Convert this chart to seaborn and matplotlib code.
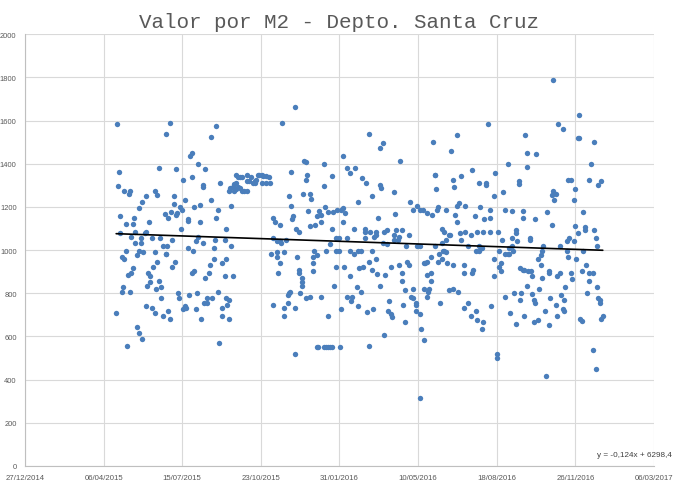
import pandas as pd
import seaborn as sns
import matplotlib.pyplot as plt
import matplotlib.dates as mdates

# (dias despues del 27/12/2014 = serial Excel 42000, valor por m2)
pts_2015_alto = [
    (117, 1582), (184, 1591), (180, 1540), (243, 1577), (236, 1526), (120, 1360), (170, 1378),
    (192, 1374), (212, 1452), (210, 1434), (220, 1401), (229, 1374), (118, 1295), (126, 1276),
    (133, 1276), (132, 1258), (165, 1276), (168, 1253), (201, 1323), (213, 1337), (227, 1300),
    (226, 1290), (248, 1309), (154, 1249), (149, 1225), (190, 1249), (203, 1230), (237, 1230),
    (145, 1193), (189, 1212), (197, 1198), (200, 1188), (215, 1198), (222, 1207), (245, 1184),
    (178, 1165), (182, 1151), (186, 1178), (194, 1170), (192, 1161), (121, 1156), (139, 1147),
    (207, 1142), (207, 1133), (223, 1128), (158, 1128), (128, 1119), (137, 1119), (243, 1147),
    (199, 1100),
]
pts_2015_bajo = [
    (121, 1077), (140, 1082), (153, 1077), (154, 1082), (135, 1063), (147, 1058), (148, 1035),
    (140, 1031), (161, 1058), (172, 1058), (187, 1049), (220, 1063), (217, 1040), (226, 1035),
    (242, 1049), (129, 998), (123, 966), (126, 961), (145, 998), (150, 989), (143, 975),
    (166, 989), (176, 1021), (181, 1021), (179, 984), (179, 980), (208, 1012), (214, 998),
    (241, 1008), (240, 961), (250, 938), (235, 929), (234, 892), (138, 915), (135, 896),
    (131, 883), (163, 924), (168, 943), (191, 947), (187, 924), (157, 896), (159, 878),
    (159, 850), (171, 859), (155, 832), (167, 822), (173, 827), (212, 896), (215, 901),
    (229, 873), (246, 808), (125, 827), (124, 804), (134, 808), (195, 799), (196, 776),
    (173, 776), (209, 790), (219, 799), (232, 776), (238, 776), (228, 753), (231, 753),
    (116, 707), (154, 739), (162, 734), (165, 707), (175, 697), (182, 716), (185, 679),
    (201, 725), (204, 739), (205, 734), (218, 725), (224, 679), (251, 730), (250, 697),
    (142, 646), (145, 614), (149, 586), (130, 558), (247, 572),
]
pts_2015b_alto = [
    (344, 1665), (327, 1591), (355, 1411), (357, 1406), (381, 1397), (404, 1438), (409, 1381),
    (413, 1355), (338, 1360), (390, 1341), (359, 1346), (357, 1327),
    (269, 1350), (271, 1337), (274, 1337), (276, 1337), (282, 1346), (288, 1337), (283, 1318),
    (285, 1318), (290, 1309), (293, 1309), (296, 1350), (298, 1350), (301, 1346), (303, 1341),
    (306, 1341), (310, 1337), (301, 1313), (307, 1313), (312, 1313), (268, 1313), (266, 1304),
    (264, 1290), (261, 1286), (259, 1276), (271, 1290), (274, 1286), (276, 1276), (279, 1276),
    (282, 1276), (266, 1276), (269, 1281), (294, 1323), (292, 1318),
    (262, 1202), (256, 1096), (336, 1249), (339, 1202), (354, 1258), (362, 1262), (364, 1239),
    (380, 1295), (360, 1179), (341, 1156), (340, 1142), (374, 1179), (382, 1198), (376, 1161),
    (371, 1156), (386, 1175), (392, 1175), (397, 1184), (402, 1188), (404, 1193), (407, 1170),
    (405, 1128), (377, 1128), (369, 1114), (362, 1110), (316, 1147), (318, 1128), (324, 1114),
    (390, 1100),
]
pts_2015b_bajo = [
    (315, 1058), (320, 1040), (324, 1040), (326, 1035), (332, 1049), (345, 1097), (349, 1082),
    (395, 1058), (400, 1058), (409, 1058), (388, 1026), (313, 980), (321, 989), (320, 966),
    (330, 989), (346, 970), (325, 938), (322, 896), (368, 998), (367, 970), (371, 975),
    (383, 998), (395, 998), (399, 998), (348, 910), (348, 892), (352, 869), (353, 850),
    (352, 836), (366, 901), (367, 938), (396, 924), (406, 924), (393, 832), (414, 878),
    (334, 790), (336, 799), (337, 804), (350, 799), (358, 776), (363, 781), (376, 781),
    (410, 781), (315, 744), (329, 730), (329, 697), (334, 753), (343, 730), (385, 697),
    (402, 725), (372, 549), (373, 549), (381, 549), (383, 549), (386, 549), (388, 549),
    (391, 549), (401, 549), (343, 521), (254, 1045), (262, 1021), (256, 957), (254, 878),
    (264, 878), (256, 776), (259, 771), (257, 748), (260, 683),
]
pts_2016_alto = [
    (438, 1540), (451, 1475), (455, 1494), (477, 1411), (420, 1378), (429, 1332), (434, 1313),
    (451, 1300), (453, 1286), (441, 1249), (470, 1267), (423, 1221), (490, 1221), (493, 1184),
    (499, 1202), (503, 1188), (506, 1188), (512, 1170), (518, 1161), (524, 1184), (526, 1198),
    (536, 1188), (547, 1161), (550, 1128), (471, 1165), (449, 1151), (519, 1503), (549, 1531),
    (542, 1457), (569, 1369), (555, 1341), (544, 1327), (546, 1290), (521, 1350), (522, 1350),
    (523, 1281), (552, 1216), (550, 1202), (560, 1202), (572, 1156), (418, 1100), (432, 1100),
    (530, 1100),
]
pts_2016_bajo = [
    (432, 1082), (439, 1082), (446, 1082), (457, 1086), (461, 1091), (470, 1072), (472, 1091),
    (476, 1063), (475, 1049), (489, 1068), (480, 1091), (469, 1045), (432, 1058), (444, 1063),
    (447, 1068), (533, 1086), (540, 1068), (541, 1072), (554, 1077), (560, 1082), (567, 1072),
    (456, 1031), (461, 1026), (485, 1021), (499, 1021), (502, 1017), (522, 1017), (535, 1045),
    (530, 1035), (555, 1049), (564, 1017), (413, 998), (419, 980), (423, 998), (428, 998),
    (442, 998), (446, 961), (532, 994), (533, 998), (536, 989), (527, 984), (516, 966),
    (511, 947), (526, 947), (530, 961), (537, 938), (545, 929), (558, 933), (425, 915),
    (430, 920), (437, 943), (442, 910), (448, 887), (458, 883), (465, 920), (476, 929),
    (486, 947), (489, 929), (479, 896), (479, 855), (507, 938), (509, 938), (511, 883),
    (517, 896), (517, 855), (559, 892), (570, 910), (569, 896), (422, 827), (427, 804),
    (452, 832), (483, 813), (494, 818), (507, 822), (514, 822), (513, 804), (512, 785),
    (539, 813), (545, 818), (551, 808), (416, 781), (415, 762), (424, 739), (435, 711),
    (443, 725), (463, 762), (462, 720), (465, 702), (467, 688), (481, 748), (491, 781),
    (494, 776), (497, 757), (498, 748), (497, 720), (502, 702), (528, 757), (559, 730),
    (564, 757), (568, 693), (484, 665), (457, 609), (504, 633), (508, 582), (437, 558),
    (503, 313),
]
pts_2016b_alto = [
    (672, 1786), (705, 1624), (589, 1586), (678, 1582), (685, 1559), (636, 1531), (703, 1517),
    (705, 1517), (724, 1499), (639, 1452), (650, 1443), (615, 1397), (639, 1387), (720, 1397),
    (598, 1355), (578, 1313), (587, 1313), (587, 1300), (629, 1318), (628, 1304), (691, 1327),
    (694, 1327), (718, 1323), (733, 1318), (729, 1300), (700, 1281), (672, 1272), (675, 1258),
    (671, 1253), (673, 1230), (699, 1230), (596, 1249), (608, 1267), (579, 1198), (592, 1188),
    (610, 1184), (619, 1179), (634, 1179), (664, 1175), (710, 1175), (633, 1151), (649, 1142),
    (584, 1142), (591, 1147), (670, 1114), (700, 1110), (712, 1105),
]
pts_2016b_bajo = [
    (575, 1086), (583, 1086), (592, 1082), (602, 1082), (624, 1091), (625, 1077), (620, 1058),
    (626, 1040), (642, 1054), (643, 1049), (704, 1077), (713, 1091), (724, 1091), (727, 1054),
    (728, 1021), (692, 1058), (689, 1040), (698, 1040), (607, 1045), (577, 1017), (581, 1012),
    (578, 998), (574, 998), (603, 998), (616, 1012), (620, 1017), (621, 998), (659, 1021),
    (658, 998), (680, 1021), (690, 998), (691, 970), (701, 961), (710, 998), (611, 980),
    (614, 980), (616, 980), (597, 957), (606, 938), (603, 924), (606, 901), (653, 957),
    (656, 975), (657, 929), (630, 915), (633, 910), (635, 906), (640, 901), (644, 901),
    (645, 878), (658, 873), (666, 896), (667, 901), (677, 878), (681, 892), (695, 896),
    (696, 864), (709, 901), (714, 933), (718, 892), (722, 892), (717, 859), (596, 878),
    (638, 836), (654, 822), (687, 827), (728, 827), (611, 785), (622, 799), (631, 799),
    (630, 767), (645, 795), (647, 771), (649, 753), (668, 776), (682, 790), (686, 767),
    (676, 744), (684, 725), (686, 716), (715, 799), (729, 776), (731, 767), (732, 757),
    (593, 739), (574, 720), (617, 707), (635, 697), (662, 716), (648, 665), (652, 674),
    (625, 660), (667, 651), (677, 693), (706, 679), (708, 670), (735, 697), (733, 679),
    (583, 665), (581, 633), (575, 674), (601, 517), (600, 498), (722, 535), (726, 447),
    (663, 415),
]

# linea de tendencia lineal (x = serial de fecha Excel)
pendiente = -0.124
ordenada = 6298.4
ecuacion = 'y = -0,124x + 6298,4'
titulo = 'Valor por M2 - Depto. Santa Cruz'

serial_0 = 42000
origen = '1899-12-30'

todos = (pts_2015_alto + pts_2015_bajo + pts_2015b_alto + pts_2015b_bajo
         + pts_2016_alto + pts_2016_bajo + pts_2016b_alto + pts_2016b_bajo)
df = pd.DataFrame(todos, columns=['dia', 'valor'])
df['serial'] = serial_0 + df['dia']
df['fecha'] = pd.to_datetime(df['serial'], unit='D', origin=origen)

sns.set_style('whitegrid')
plt.rcParams['font.family'] = ['Liberation Sans', 'DejaVu Sans']

fig, ax = plt.subplots(figsize=(6.79, 4.89), dpi=100)
fig.subplots_adjust(left=0.0368, right=0.963, top=0.928, bottom=0.045)

sns.scatterplot(data=df, x='fecha', y='valor', color='#4A7EBB', s=15,
                linewidth=0, ax=ax, zorder=3)

s_ini, s_fin = df['serial'].min(), df['serial'].max()
tend = pd.DataFrame({'serial': [s_ini, s_fin]})
tend['fecha'] = pd.to_datetime(tend['serial'], unit='D', origin=origen)
tend['valor'] = pendiente * tend['serial'] + ordenada
ax.plot(tend['fecha'], tend['valor'], color='black', lw=1.2, zorder=4)

ticks = pd.date_range('2014-12-27', periods=9, freq='100D')
ax.set_xlim(ticks[0], ticks[-1])
ax.set_xticks(ticks)
ax.xaxis.set_major_formatter(mdates.DateFormatter('%d/%m/%Y'))
ax.set_ylim(0, 2000)
ax.set_yticks(range(0, 2001, 200))

ax.grid(True, color='#D9D9D9', lw=0.8)
for lado in ['top', 'right']:
    ax.spines[lado].set_visible(False)
for lado in ['left', 'bottom']:
    ax.spines[lado].set_color('#BFBFBF')
    ax.spines[lado].set_linewidth(0.8)
ax.tick_params(axis='x', length=0, pad=6, labelsize=5.6, colors='#595959')
ax.tick_params(axis='y', length=0, pad=6, labelsize=5.4, colors='#595959')
ax.set_xlabel('')
ax.set_ylabel('')

ax.set_title(titulo, family='Liberation Mono', fontsize=15, color='#595959', pad=5)
fig.text(672 / 679, 1 - 456 / 489, ecuacion, ha='right', va='center',
         fontsize=5.9, color='#404040')

plt.savefig('out.png', dpi=100)
